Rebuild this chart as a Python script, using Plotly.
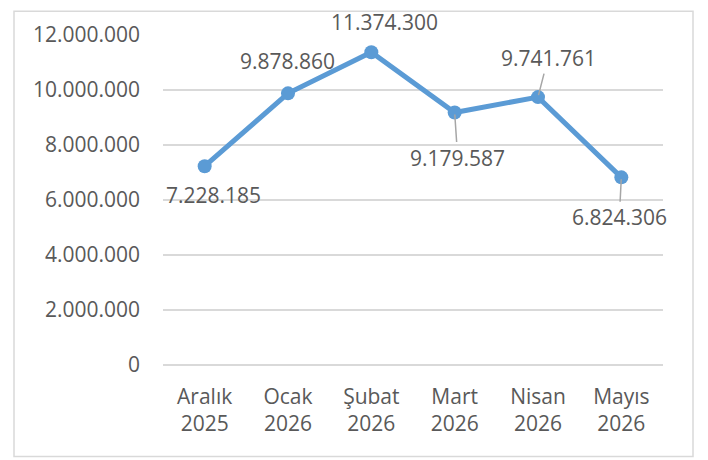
import plotly.graph_objects as go

categories = ["Aralık<br>2025", "Ocak<br>2026", "Şubat<br>2026", "Mart<br>2026", "Nisan<br>2026", "Mayıs<br>2026"]
values = [7228185, 9878860, 11374300, 9179587, 9741761, 6824306]
y_ticks = [0, 2000000, 4000000, 6000000, 8000000, 10000000, 12000000]

# label placement (pixel offsets of label centre relative to point), leader line flag
label_offsets = [(9, 29, False), (-1, -32, False), (13, -30, False), (3, 45, True), (10, -39, True), (-2, 40, True)]

FONT = "Open Sans"
TXT = "#595959"
FS = 21

fig = go.Figure()
fig.add_trace(go.Scatter(
    x=categories, y=values, mode="lines+markers",
    line=dict(color="#5B9BD5", width=5),
    marker=dict(color="#5B9BD5", size=14),
    cliponaxis=False, hoverinfo="skip", showlegend=False,
))

def fmt(v):
    return f"{v:,}".replace(",", ".")

for c, v, (dx, dy, lead) in zip(categories, values, label_offsets):
    if lead:
        fig.add_annotation(x=c, y=v, text=fmt(v), showarrow=True, ax=dx, ay=dy,
                           arrowhead=0, arrowwidth=1.5, arrowcolor="#A6A6A6", standoff=2,
                           font=dict(family=FONT, size=FS, color=TXT))
    else:
        fig.add_annotation(x=c, y=v, text=fmt(v), showarrow=False, xshift=dx, yshift=-dy,
                           font=dict(family=FONT, size=FS, color=TXT))

# outer chart border (figure is 700x452, plot area 500x332 at l=155, t=25)
fig.add_shape(type="rect", xref="paper", yref="paper",
              x0=(6 - 155) / 500, x1=(685 - 155) / 500,
              y0=(357 - 449) / 332, y1=(357 - 1) / 332,
              line=dict(color="#D9D9D9", width=1.5), fillcolor="rgba(0,0,0,0)", layer="above")

fig.update_layout(
    width=700, height=452,
    margin=dict(l=155, r=45, t=25, b=95),
    paper_bgcolor="white", plot_bgcolor="white",
    separators=",.",
    font=dict(family=FONT, size=FS, color=TXT),
    xaxis=dict(type="category", range=[-0.5, 5.5], showgrid=False, showline=False, zeroline=False,
               ticks="", tickfont=dict(family=FONT, size=FS, color=TXT), ticklabelstandoff=17),
    yaxis=dict(range=[0, 12000000], tickvals=y_ticks, tickformat=",d", showgrid=True,
               gridcolor="#D9D9D9", gridwidth=1.5, zeroline=True, zerolinecolor="#D9D9D9", zerolinewidth=1.5,
               showline=False, ticks="", ticklabelstandoff=22,
               tickfont=dict(family=FONT, size=FS, color=TXT)),
)

fig.write_html("out.html")
